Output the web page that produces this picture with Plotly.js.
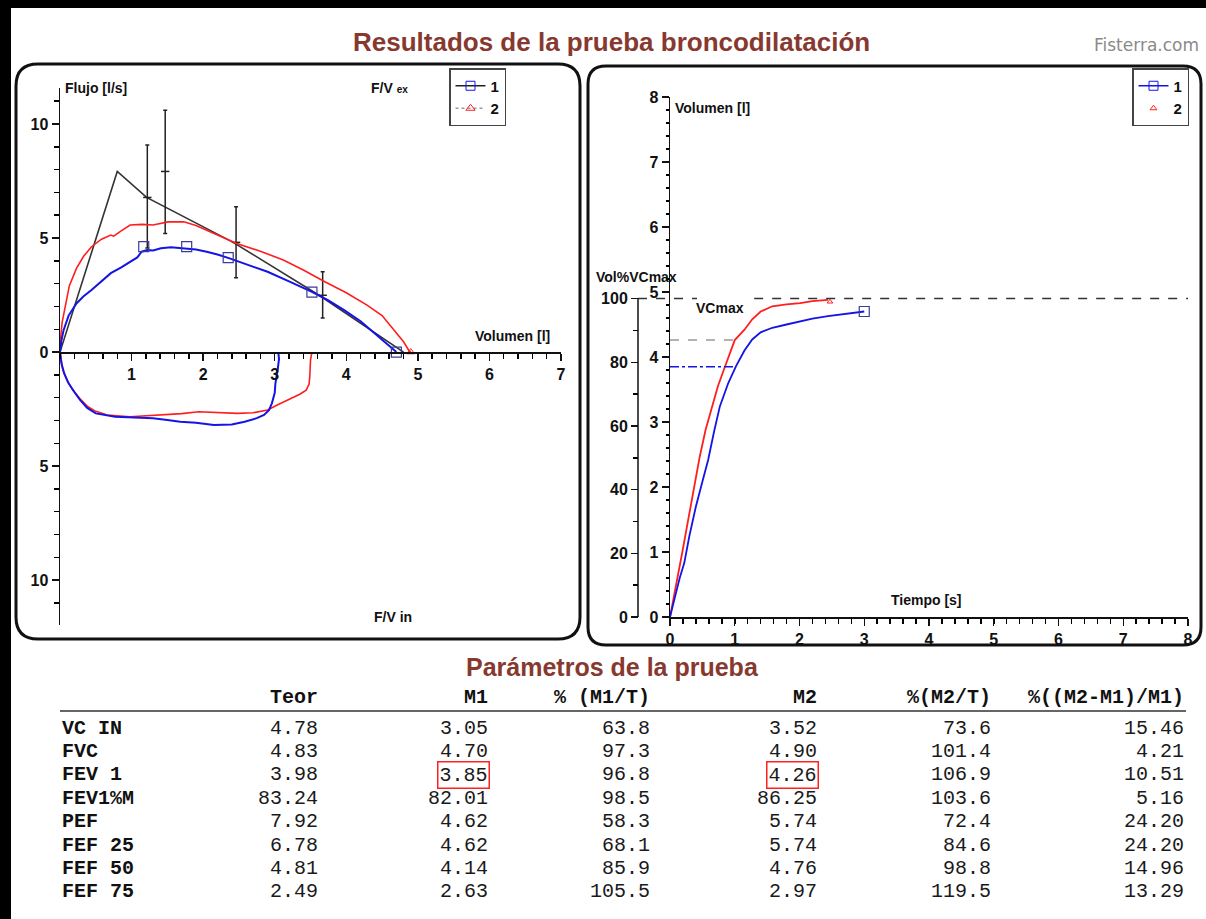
<!DOCTYPE html>
<html><head><meta charset="utf-8">
<script src="https://cdn.plot.ly/plotly-3.0.1.min.js"></script>
<style>html,body{margin:0;padding:0;background:#fff;}#chart{width:1206px;height:919px;}</style>
</head><body><div id="chart"></div>
<script>
// ---------- DATA ----------
// Flow-volume: predicted (teórico) curve
const predVol  = [0, 0.80, 1.21, 2.42, 3.62, 4.80];
const predFlow = [0, 7.92, 6.78, 4.81, 2.49, 0];
// Reference error bars
const refBarVol   = [1.22, 1.47, 2.46, 3.67];
const refBarFlow  = [6.78, 7.92, 4.81, 2.49];
const refBarPlus  = [2.30, 2.68, 1.56, 1.03];
const refBarMinus = [2.22, 2.72, 1.55, 1.00];
// M1 expiratory
const m1ExpVol  = [0, 0.02, 0.05, 0.12, 0.23, 0.33, 0.44, 0.58, 0.71, 0.85, 0.98, 1.08, 1.14, 1.22, 1.30, 1.41, 1.55, 1.73, 1.90, 2.05, 2.20, 2.37, 2.60, 2.90, 3.20, 3.52, 3.75, 3.97, 4.20, 4.40, 4.52, 4.62, 4.68, 4.70];
const m1ExpFlow = [0, 0.50, 0.96, 1.60, 2.13, 2.45, 2.72, 3.10, 3.46, 3.70, 3.96, 4.15, 4.40, 4.47, 4.45, 4.55, 4.60, 4.55, 4.50, 4.40, 4.28, 4.11, 3.85, 3.52, 3.10, 2.64, 2.27, 1.84, 1.35, 0.82, 0.50, 0.25, 0.08, 0];
// M1 inspiratory
const m1InsVol  = [0, 0.02, 0.06, 0.12, 0.20, 0.28, 0.38, 0.50, 0.77, 1.00, 1.30, 1.50, 1.68, 1.90, 2.15, 2.40, 2.58, 2.75, 2.85, 2.92, 2.96, 3.00, 3.01, 3.04, 3.06, 3.05];
const m1InsFlow = [0, -0.50, -0.95, -1.37, -1.75, -2.10, -2.45, -2.69, -2.84, -2.86, -2.90, -2.98, -3.06, -3.10, -3.20, -3.18, -3.06, -2.90, -2.76, -2.55, -2.25, -1.80, -1.37, -0.80, -0.30, 0];
// M1 marks (PEF/FEF/FVC)
const m1MarkVol  = [1.17, 1.77, 2.35, 3.52, 4.70];
const m1MarkFlow = [4.62, 4.62, 4.14, 2.63, 0];
// M2 expiratory
const m2ExpVol  = [0, 0.01, 0.03, 0.07, 0.13, 0.23, 0.33, 0.44, 0.58, 0.71, 0.75, 0.85, 0.98, 1.15, 1.30, 1.51, 1.73, 1.90, 2.05, 2.25, 2.46, 2.80, 3.12, 3.40, 3.70, 4.00, 4.29, 4.50, 4.61, 4.72, 4.80, 4.87, 4.90];
const m2ExpFlow = [0, 0.67, 1.30, 1.99, 2.90, 3.67, 4.20, 4.62, 4.95, 5.13, 5.08, 5.30, 5.57, 5.60, 5.57, 5.71, 5.71, 5.55, 5.35, 5.05, 4.77, 4.42, 4.04, 3.60, 3.08, 2.60, 2.06, 1.60, 1.18, 0.80, 0.45, 0.09, 0];
// M2 inspiratory
const m2InsVol  = [0, 0.04, 0.10, 0.18, 0.28, 0.39, 0.50, 0.66, 0.98, 1.20, 1.41, 1.70, 1.94, 2.20, 2.48, 2.70, 2.90, 3.05, 3.22, 3.35, 3.44, 3.48, 3.49, 3.50, 3.52];
const m2InsFlow = [0, -0.79, -1.25, -1.67, -2.05, -2.40, -2.60, -2.76, -2.84, -2.80, -2.76, -2.70, -2.62, -2.65, -2.69, -2.66, -2.54, -2.30, -2.03, -1.85, -1.67, -1.40, -1.08, -0.35, 0];
const m2MarkVol  = [4.90];
const m2MarkFlow = [0];
// Volume-time
const m1Time = [0, 0.05, 0.09, 0.15, 0.22, 0.30, 0.40, 0.50, 0.59, 0.68, 0.77, 0.90, 1.02, 1.15, 1.27, 1.40, 1.58, 1.80, 2.01, 2.20, 2.44, 2.70, 3.00];
const m1Vt   = [0, 0.18, 0.36, 0.60, 0.83, 1.25, 1.70, 2.08, 2.42, 2.85, 3.24, 3.60, 3.86, 4.10, 4.27, 4.38, 4.45, 4.50, 4.55, 4.59, 4.63, 4.66, 4.70];
const m2Time = [0, 0.05, 0.12, 0.20, 0.28, 0.37, 0.46, 0.55, 0.65, 0.74, 0.83, 0.92, 1.00, 1.15, 1.27, 1.40, 1.58, 1.80, 2.01, 2.20, 2.44];
const m2Vt   = [0, 0.25, 0.62, 1.05, 1.49, 2.00, 2.47, 2.88, 3.24, 3.55, 3.80, 4.03, 4.26, 4.42, 4.58, 4.70, 4.78, 4.81, 4.83, 4.86, 4.88];
const m1EndTime = [3.00], m1EndVol = [4.70];
const m2EndTime = [2.47], m2EndVol = [4.85];
const fev1M1 = 3.85, fev1M2 = 4.26, fev1Time = [0, 1];
const vcmax = 4.90, vcmaxTime = [1.3, 8];
// Axis ticks
const flowTickVals = [-10, -5, 0, 5, 10];
const flowTickText = ['10', '5', '0', '5', '10'];
const volTickVals = [1, 2, 3, 4, 5, 6, 7];
const timeTickVals = [0, 1, 2, 3, 4, 5, 6, 7, 8];
const vtTickVals = [0, 1, 2, 3, 4, 5, 6, 7, 8];
const pctTickVals = [0, 20, 40, 60, 80, 100];
const pctMinorVals = [10, 30, 50, 70, 90];
// Table
const rowLabels = ['VC IN', 'FVC', 'FEV 1', 'FEV1%M', 'PEF', 'FEF 25', 'FEF 50', 'FEF 75'];
const colHeaders = ['Teor', 'M1', '% (M1/T)', 'M2', '%(M2/T)', '%((M2-M1)/M1)'];
const colTeor  = ['4.78', '4.83', '3.98', '83.24', '7.92', '6.78', '4.81', '2.49'];
const colM1    = ['3.05', '4.70', '3.85', '82.01', '4.62', '4.62', '4.14', '2.63'];
const colPctM1 = ['63.8', '97.3', '96.8', '98.5', '58.3', '68.1', '85.9', '105.5'];
const colM2    = ['3.52', '4.90', '4.26', '86.25', '5.74', '5.74', '4.76', '2.97'];
const colPctM2 = ['73.6', '101.4', '106.9', '103.6', '72.4', '84.6', '98.8', '119.5'];
const colDiff  = ['15.46', '4.21', '10.51', '5.16', '24.20', '24.20', '14.96', '13.29'];
const highlightRow = 'FEV 1';

// ---------- LAYOUT HELPERS ----------
const W = 1206, H = 919;
const px = x => x / W, py = y => 1 - y / H;
const BLUE = '#1414e6', RED = '#ff1e1e';
const LBL = {family: 'Liberation Sans Narrow, Liberation Sans, Arial, sans-serif', size: 14, color: '#111', weight: 'bold'};
const TICKF = {family: 'Liberation Sans, Arial, sans-serif', size: 16, color: '#111', weight: 'bold'};
const MONO = 'Liberation Mono, DejaVu Sans Mono, monospace';
const TITLEC = '#87392f';

function roundRect(x0, y0, x1, y1, r) {
  const P = (x, y) => px(x) + ',' + py(y);
  return 'M' + P(x0 + r, y0) + ' L' + P(x1 - r, y0) + ' Q' + P(x1, y0) + ' ' + P(x1, y0 + r) +
    ' L' + P(x1, y1 - r) + ' Q' + P(x1, y1) + ' ' + P(x1 - r, y1) +
    ' L' + P(x0 + r, y1) + ' Q' + P(x0, y1) + ' ' + P(x0, y1 - r) +
    ' L' + P(x0, y0 + r) + ' Q' + P(x0, y0) + ' ' + P(x0 + r, y0) + ' Z';
}

// ---------- TRACES ----------
const traces = [
  {x: predVol, y: predFlow, mode: 'lines', line: {color: '#333', width: 1.6}, xaxis: 'x', yaxis: 'y', showlegend: false},
  {x: refBarVol, y: refBarFlow, mode: 'markers', xaxis: 'x', yaxis: 'y', showlegend: false,
   marker: {symbol: 'line-ew', size: 6, line: {color: '#222', width: 1.5}},
   error_y: {type: 'data', symmetric: false, array: refBarPlus, arrayminus: refBarMinus, color: '#222', thickness: 1.5, width: 2}},
  {x: m2ExpVol, y: m2ExpFlow, mode: 'lines', line: {color: RED, width: 1.6}, xaxis: 'x', yaxis: 'y', showlegend: false},
  {x: m2InsVol, y: m2InsFlow, mode: 'lines', line: {color: RED, width: 1.6}, xaxis: 'x', yaxis: 'y', showlegend: false},
  {x: m1ExpVol, y: m1ExpFlow, mode: 'lines', line: {color: BLUE, width: 2}, xaxis: 'x', yaxis: 'y', showlegend: false},
  {x: m1InsVol, y: m1InsFlow, mode: 'lines', line: {color: BLUE, width: 2}, xaxis: 'x', yaxis: 'y', showlegend: false},
  {x: m1MarkVol, y: m1MarkFlow, mode: 'markers', xaxis: 'x', yaxis: 'y', showlegend: false,
   marker: {symbol: 'square-open', size: 10, color: '#3b3b9a', line: {width: 1.2}}},
  {x: m2MarkVol, y: m2MarkFlow, mode: 'markers', xaxis: 'x', yaxis: 'y', showlegend: false,
   marker: {symbol: 'triangle-up-open', size: 7, color: RED, line: {width: 1}}},
  // volume-time
  {x: m2Time, y: m2Vt, mode: 'lines', line: {color: RED, width: 1.8}, xaxis: 'x3', yaxis: 'y3', showlegend: false},
  {x: m1Time, y: m1Vt, mode: 'lines', line: {color: BLUE, width: 1.8}, xaxis: 'x3', yaxis: 'y3', showlegend: false},
  {x: m1EndTime, y: m1EndVol, mode: 'markers', xaxis: 'x3', yaxis: 'y3', showlegend: false,
   marker: {symbol: 'square-open', size: 10, color: '#3b3b9a', line: {width: 1.2}}},
  {x: m2EndTime, y: m2EndVol, mode: 'markers', xaxis: 'x3', yaxis: 'y3', showlegend: false,
   marker: {symbol: 'triangle-up-open', size: 5, color: RED, line: {width: 1}}},
  {x: fev1Time, y: [fev1M1, fev1M1], mode: 'lines', line: {color: BLUE, width: 1.5, dash: 'dashdot'}, xaxis: 'x3', yaxis: 'y3', showlegend: false},
  {x: fev1Time, y: [fev1M2, fev1M2], mode: 'lines', line: {color: '#999', width: 1.5, dash: 'dash'}, xaxis: 'x3', yaxis: 'y3', showlegend: false},
  {x: vcmaxTime, y: [vcmax, vcmax], mode: 'lines', line: {color: '#333', width: 1.3, dash: 'dash'}, xaxis: 'x3', yaxis: 'y3', showlegend: false},
  // legend entries
  {x: [null], y: [null], name: '1', mode: 'lines+markers', line: {color: '#222', width: 1.3}, marker: {symbol: 'square-open', size: 9, color: BLUE}, xaxis: 'x', yaxis: 'y', legend: 'legend'},
  {x: [null], y: [null], name: '2', mode: 'lines+markers', line: {color: '#999', width: 1.3, dash: 'dot'}, marker: {symbol: 'triangle-up-open', size: 8, color: RED}, xaxis: 'x', yaxis: 'y', legend: 'legend'},
  {x: [null], y: [null], name: '1', mode: 'lines+markers', line: {color: BLUE, width: 1.5}, marker: {symbol: 'square-open', size: 9, color: BLUE}, xaxis: 'x3', yaxis: 'y3', legend: 'legend2'},
  {x: [null], y: [null], name: '2', mode: 'markers', marker: {symbol: 'triangle-up-open', size: 6, color: RED}, xaxis: 'x3', yaxis: 'y3', legend: 'legend2'}
];

// ---------- ANNOTATIONS ----------
const ann = [];
function txt(t, x, y, font, xanchor, extra) {
  ann.push(Object.assign({text: t, x: px(x), y: py(y), xref: 'paper', yref: 'paper', showarrow: false,
    xanchor: xanchor || 'left', yanchor: 'middle', font: font}, extra || {}));
}
txt('Resultados de la prueba broncodilatación', 611, 42, {family: 'Liberation Sans, Arial', size: 26, color: TITLEC, weight: 'bold'}, 'center');
txt('Fisterra.com', 1201, 45, {family: 'DejaVu Sans, Verdana, sans-serif', size: 17, color: '#8a8a8a'}, 'right');
txt('Flujo [l/s]', 63, 88, LBL);
txt('F/V <span style="font-size:10px">ex</span>', 369, 88, LBL);
txt('Volumen [l]', 473, 336, LBL);
txt('F/V in', 372, 617, LBL);
txt('Volumen [l]', 673, 108, LBL);
txt('Vol%VCmax', 594, 277, LBL);
txt('VCmax', 694, 308, LBL);
txt('Tiempo [s]', 889, 600, LBL);
txt('Parámetros de la prueba', 612, 667, {family: 'Liberation Sans, Arial', size: 25, color: TITLEC, weight: 'bold'}, 'center');

const colRight = [320, 490, 652, 819, 993, 1186];
const cols = [colTeor, colM1, colPctM1, colM2, colPctM2, colDiff];
const headerY = 697, rowY0 = 728, rowDY = 23.4;
colHeaders.forEach((h, j) => txt(h, colRight[j], headerY, {family: MONO, size: 20, color: '#111', weight: 'bold'}, 'right'));
rowLabels.forEach((lab, i) => {
  const y = rowY0 + i * rowDY;
  txt(lab, 60, y, {family: MONO, size: 20, color: '#111', weight: 'bold'}, 'left');
  cols.forEach((c, j) => {
    const hl = (lab === highlightRow) && (j === 1 || j === 3);
    txt(c[i], colRight[j], y, {family: MONO, size: 20, color: '#1a1a1a'}, 'right',
      hl ? {bordercolor: '#ff2020', borderwidth: 1.5, borderpad: 1} : {});
  });
});

// ---------- SHAPES ----------
const shapes = [
  {type: 'rect', xref: 'paper', yref: 'paper', x0: 0, x1: 1, y0: py(8), y1: 1, fillcolor: '#000', line: {width: 0}},
  {type: 'rect', xref: 'paper', yref: 'paper', x0: 0, x1: px(11), y0: 0, y1: 1, fillcolor: '#000', line: {width: 0}},
  {type: 'path', xref: 'paper', yref: 'paper', path: roundRect(16, 64, 580, 639, 22), line: {color: '#111', width: 3}},
  {type: 'path', xref: 'paper', yref: 'paper', path: roundRect(588, 66, 1201, 645, 18), line: {color: '#111', width: 3}},
  {type: 'line', xref: 'paper', yref: 'paper', x0: px(60), x1: px(1186), y0: py(711), y1: py(711), line: {color: '#333', width: 1.5}},
  {type: 'line', xref: 'paper', yref: 'y4', x0: px(638), x1: px(638), y0: 0, y1: 100, line: {color: '#111', width: 1.5}},
  {type: 'line', xref: 'paper', yref: 'y3', x0: px(638), x1: px(697), y0: vcmax, y1: vcmax, line: {color: '#333', width: 1.3, dash: 'dash'}}
];

const MINOR = {ticks: 'outside', ticklen: 5, tickwidth: 1.5, tickcolor: '#000'};
const axBase = {showgrid: false, zeroline: false, showline: true, linecolor: '#111', linewidth: 1.5,
  ticks: 'outside', ticklen: 7, tickwidth: 1.3, tickcolor: '#111', tickfont: TICKF, fixedrange: true};

const layout = {
  width: W, height: H, margin: {l: 0, r: 0, t: 0, b: 0},
  paper_bgcolor: '#fff', plot_bgcolor: 'rgba(0,0,0,0)', showlegend: true,
  xaxis: Object.assign({}, axBase, {domain: [px(60), px(561)], range: [0, 7], anchor: 'free', position: py(352),
    tickmode: 'array', tickvals: volTickVals,
    minor: Object.assign({dtick: 0.2}, MINOR)}),
  yaxis: Object.assign({}, axBase, {domain: [py(625), py(88)], range: [-11.97, 11.58], anchor: 'x',
    tickmode: 'array', tickvals: flowTickVals, ticktext: flowTickText,
    minor: Object.assign({dtick: 1}, MINOR)}),
  xaxis3: Object.assign({}, axBase, {domain: [px(670), px(1188)], range: [0, 8], anchor: 'y3',
    tickmode: 'array', tickvals: timeTickVals,
    minor: Object.assign({dtick: 0.2}, MINOR)}),
  yaxis3: Object.assign({}, axBase, {domain: [py(617), py(97)], range: [0, 8], anchor: 'x3',
    tickmode: 'array', tickvals: vtTickVals,
    minor: Object.assign({dtick: 0.2}, MINOR, {ticklen: 3})}),
  yaxis4: Object.assign({}, axBase, {overlaying: 'y3', anchor: 'free', position: px(638), side: 'left',
    range: [0, 800 / vcmax], showline: false, tickmode: 'array', tickvals: pctTickVals,
    minor: Object.assign({tickmode: 'array', tickvals: pctMinorVals}, MINOR)}),
  legend: {x: px(449), y: py(68), xanchor: 'left', yanchor: 'top', bgcolor: '#fff', bordercolor: '#444', borderwidth: 1.5,
    font: {family: 'Liberation Sans, Arial', size: 15, color: '#111', weight: 'bold'}, itemwidth: 30, tracegroupgap: 0},
  legend2: {x: px(1132), y: py(68), xanchor: 'left', yanchor: 'top', bgcolor: '#fff', bordercolor: '#444', borderwidth: 1.5,
    font: {family: 'Liberation Sans, Arial', size: 15, color: '#111', weight: 'bold'}, itemwidth: 30, tracegroupgap: 0},
  annotations: ann,
  shapes: shapes
};

Plotly.newPlot('chart', traces, layout, {displayModeBar: false, staticPlot: true});
</script></body></html>
